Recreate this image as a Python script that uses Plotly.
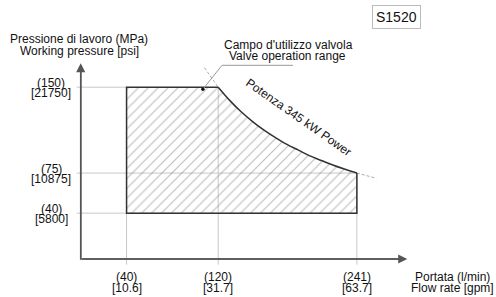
import plotly.graph_objects as go

# ---------------- data ----------------
FLOW_TICKS = [40, 120, 241]            # l/min
FLOW_GPM = ["10.6", "31.7", "63.7"]
PRESS_TICKS = [150, 75, 40]            # MPa
PRESS_PSI = ["21750", "10875", "5800"]

Q_MIN = 40
P_MIN = 40
# constant power curve
CURVE_Q = [120, 130, 140, 150, 160, 170, 180, 190, 200, 210, 220, 230, 241]
CURVE_P = [150, 138.5, 128.5, 120, 112.5, 106, 100, 95, 90, 86, 82, 78.5, 75]
EXT_UP_Q = [108, 120]
EXT_UP_P = [167, 150]
EXT_DN_Q = [241, 258]
EXT_DN_P = [75, 70.5]
LEADER_Q = [106.6, 123.3, 185.3]
LEADER_P = [148.2, 169.1, 169.1]
AXIS_Q_MAX = 285
AXIS_P_MAX = 171

# ---------------- layout geometry ----------------
W, H = 496, 297
SX, SY = 1.144, 1.147
OX, OY = 81, 259
X0, X1 = -5, 290
Y0, Y1 = -7, 172
ML = OX + X0 * SX
MR = W - (OX + X1 * SX)
MB = H - (OY - Y0 * SY)
MT = OY - Y1 * SY
PW = W - ML - MR
PH = H - MT - MB


def px(xpix):
    return (xpix - ML) / PW


def py(ypix):
    return (H - MB - ypix) / PH


FONT = "Liberation Sans, Arial, sans-serif"
TXT = "#111"
GRID = "#c8c8c8"

fig = go.Figure()

# gridlines
for p in PRESS_TICKS:
    qend = CURVE_Q[-1] if p <= CURVE_P[-1] else Q_MIN
    fig.add_trace(go.Scatter(x=[-3.5, qend], y=[p, p], mode="lines",
                             line=dict(color=GRID, width=1), hoverinfo="skip"))
for q in FLOW_TICKS:
    pend = CURVE_P[0] if q <= CURVE_Q[0] else CURVE_P[-1]
    fig.add_trace(go.Scatter(x=[q, q], y=[-5, pend], mode="lines",
                             line=dict(color=GRID, width=1), hoverinfo="skip"))

# hatched operating area
poly_q = [Q_MIN, Q_MIN] + CURVE_Q + [CURVE_Q[-1], Q_MIN]
poly_p = [P_MIN, CURVE_P[0]] + CURVE_P + [P_MIN, P_MIN]
fig.add_trace(go.Scatter(x=poly_q, y=poly_p, mode="lines", fill="toself",
                         fillcolor="rgba(255,255,255,0)",
                         fillpattern=dict(shape="/", size=7, solidity=0.16,
                                          fgcolor="#7a7a7a", bgcolor="rgba(255,255,255,0)"),
                         line=dict(width=0, color="rgba(0,0,0,0)"), hoverinfo="skip"))

# dashed extensions of the power curve
for qq, pp in ((EXT_UP_Q, EXT_UP_P), (EXT_DN_Q, EXT_DN_P)):
    fig.add_trace(go.Scatter(x=qq, y=pp, mode="lines",
                             line=dict(color="#aaaaaa", width=1, dash="3px,2px"),
                             hoverinfo="skip"))

# outline
fig.add_trace(go.Scatter(x=[CURVE_Q[0], Q_MIN, Q_MIN, CURVE_Q[-1], CURVE_Q[-1]],
                         y=[CURVE_P[0], CURVE_P[0], P_MIN, P_MIN, CURVE_P[-1]],
                         mode="lines", line=dict(color="#333", width=1.5),
                         hoverinfo="skip"))
fig.add_trace(go.Scatter(x=CURVE_Q, y=CURVE_P, mode="lines",
                         line=dict(color="#333", width=1.5, shape="spline"),
                         hoverinfo="skip"))

# leader line + dot
fig.add_trace(go.Scatter(x=LEADER_Q, y=LEADER_P, mode="lines",
                         line=dict(color="#999", width=1), hoverinfo="skip"))
fig.add_trace(go.Scatter(x=LEADER_Q[:1], y=LEADER_P[:1], mode="markers",
                         marker=dict(color="#111", size=3.5), hoverinfo="skip"))

# axes lines with arrows
fig.add_trace(go.Scatter(x=[0, 0, AXIS_Q_MAX - 4], y=[AXIS_P_MAX - 4, 0, 0], mode="lines",
                         line=dict(color="#555", width=1.6), hoverinfo="skip"))

ann = []
ann.append(dict(x=AXIS_Q_MAX, y=0, ax=0, ay=0, axref="x", ayref="y", xref="x", yref="y",
                text="", showarrow=True, arrowhead=2, arrowsize=1.3, arrowwidth=1.4,
                arrowcolor="#555", standoff=0))
ann.append(dict(x=0, y=AXIS_P_MAX, ax=0, ay=0, axref="x", ayref="y", xref="x", yref="y",
                text="", showarrow=True, arrowhead=2, arrowsize=1.3, arrowwidth=1.4,
                arrowcolor="#555", standoff=0))

f12 = dict(family=FONT, size=12, color=TXT)

# y tick labels
for p, psi in zip(PRESS_TICKS, PRESS_PSI):
    ann.append(dict(x=px(51.5), y=p, xref="paper", yref="y", text=f"({p})",
                    showarrow=False, xanchor="center", yanchor="middle", yshift=4.5, font=f12))
    ann.append(dict(x=px(51.5), y=p, xref="paper", yref="y", text=f"[{psi}]",
                    showarrow=False, xanchor="center", yanchor="middle", yshift=-6, font=f12))

# x tick labels
for q, g in zip(FLOW_TICKS, FLOW_GPM):
    ann.append(dict(x=q, y=py(277), xref="x", yref="paper", text=f"({q})",
                    showarrow=False, xanchor="center", yanchor="middle", font=f12))
    ann.append(dict(x=q, y=py(288), xref="x", yref="paper", text=f"[{g}]",
                    showarrow=False, xanchor="center", yanchor="middle", font=f12))

# axis titles
ann.append(dict(x=px(79), y=py(39), xref="paper", yref="paper", text="Pressione di lavoro (MPa)",
                showarrow=False, xanchor="center", yanchor="middle", font=f12))
ann.append(dict(x=px(80), y=py(51), xref="paper", yref="paper", text="Working pressure [psi]",
                showarrow=False, xanchor="center", yanchor="middle", font=f12))
ann.append(dict(x=px(452), y=py(277), xref="paper", yref="paper", text="Portata (l/min)",
                showarrow=False, xanchor="center", yanchor="middle", font=f12))
ann.append(dict(x=px(452), y=py(288), xref="paper", yref="paper", text="Flow rate [gpm]",
                showarrow=False, xanchor="center", yanchor="middle", font=f12))

# range label
ann.append(dict(x=px(288), y=py(45), xref="paper", yref="paper", text="Campo d'utilizzo valvola",
                showarrow=False, xanchor="center", yanchor="middle", font=f12))
ann.append(dict(x=px(287), y=py(56), xref="paper", yref="paper", text="Valve operation range",
                showarrow=False, xanchor="center", yanchor="middle", font=f12))

# power label
ann.append(dict(x=189.7, y=123.8, xref="x", yref="y", text="Potenza 345 kW Power",
                showarrow=False, xanchor="center", yanchor="middle", textangle=35, font=f12))

# model box
ann.append(dict(x=px(396.5), y=py(16.5), xref="paper", yref="paper", text="S1520",
                showarrow=False, xanchor="center", yanchor="middle",
                font=dict(family=FONT, size=14, color=TXT),
                bordercolor="#bbbbbb", borderwidth=1, borderpad=3, bgcolor="white"))

fig.update_layout(
    width=W, height=H,
    margin=dict(l=ML, r=MR, t=MT, b=MB, pad=0),
    paper_bgcolor="white", plot_bgcolor="white",
    showlegend=False,
    xaxis=dict(range=[X0, X1], visible=False, fixedrange=True),
    yaxis=dict(range=[Y0, Y1], visible=False, fixedrange=True),
    annotations=ann,
)

fig.write_html("out.html", config={"displayModeBar": False},
               post_script="document.body.style.margin='0';document.body.style.overflow='hidden';")
